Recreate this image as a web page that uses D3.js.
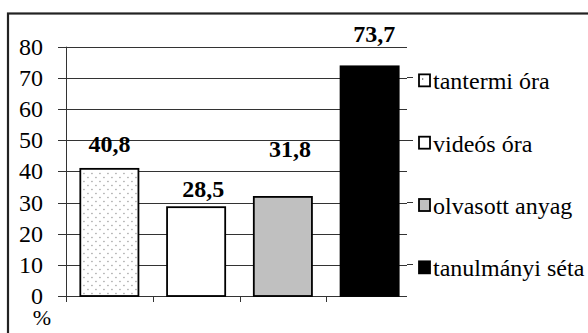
<!DOCTYPE html>
<html>
<head>
<meta charset="utf-8">
<script src="https://cdn.jsdelivr.net/npm/d3@7"></script>
<style>
  html, body { margin: 0; padding: 0; background: #fff; }
  #chart { position: relative; width: 588px; height: 333px; overflow: hidden; }
  #chart svg { position: absolute; left: 0; top: 0; display: block; }
  .lbl {
    position: absolute; white-space: nowrap; line-height: 1; color: #000;
    font-family: "Liberation Serif", "Times New Roman", Times, serif;
  }
</style>
</head>
<body>
<div id="chart"></div>
<script>
// Survey result: share (%) of respondents per learning format
const categories = ["tantermi óra", "videós óra", "olvasott anyag", "tanulmányi séta"];
const values = [40.8, 28.5, 31.8, 73.7];
const valueLabels = ["40,8", "28,5", "31,8", "73,7"];
const yTicks = [0, 10, 20, 30, 40, 50, 60, 70, 80];
const yUnit = "%";

// Styling / layout
const W = 588, H = 333;
const fills = ["#ffffff", "#ffffff", "#c0c0c0", "#000000"];
// small hand nudges (dx, dy) of each value label's baseline from its bar top
const labelNudge = [[0, -17], [7, -10], [7, -40], [4.5, -24.5]];

const root = d3.select("#chart");
const svg = root.append("svg").attr("width", W).attr("height", H);

const x = d3.scaleBand().domain(categories).range([66, 413])
  .paddingInner(0.33).paddingOuter(0.165);
const y = d3.scaleLinear().domain([0, 80]).range([296, 46.7]);
const legendY = categories.map((c, i) => y(70 - 20 * i) + 2.5);

// outer frame (runs past the right and bottom edges)
svg.append("rect")
  .attr("x", 8).attr("y", 13.5).attr("width", W + 20).attr("height", H + 20)
  .attr("fill", "none").attr("stroke", "#222").attr("stroke-width", 2.2);

// horizontal grid lines + tick marks on the left
svg.selectAll("line.grid").data(yTicks).join("line")
  .attr("class", "grid")
  .attr("x1", 58).attr("x2", 407)
  .attr("y1", d => Math.round(y(d)) + 0.5).attr("y2", d => Math.round(y(d)) + 0.5)
  .attr("stroke", "#333").attr("stroke-width", 1);

// vertical axis line
svg.append("line").attr("x1", 66.5).attr("x2", 66.5).attr("y1", y(80)).attr("y2", 302)
  .attr("stroke", "#333").attr("stroke-width", 1);

// category separators below the baseline
const seps = categories.map(c => x(c) - x.step() * x.paddingInner() / 2).slice(1);
svg.selectAll("line.sep").data(seps).join("line")
  .attr("class", "sep")
  .attr("x1", d => Math.round(d) + 0.5).attr("x2", d => Math.round(d) + 0.5)
  .attr("y1", y(0)).attr("y2", 302)
  .attr("stroke", "#333").attr("stroke-width", 1);

// bars
svg.selectAll("rect.bar").data(values).join("rect")
  .attr("class", "bar")
  .attr("x", (d, i) => x(categories[i]))
  .attr("y", d => y(d))
  .attr("width", x.bandwidth())
  .attr("height", d => y(0) - y(d))
  .attr("fill", (d, i) => fills[i])
  .attr("stroke", "#000").attr("stroke-width", 1.8);

// dots inside the first bar
{
  const bx = x(categories[0]), bw = x.bandwidth(), top = y(values[0]), bot = y(0);
  const dots = [];
  for (let r = 0, yy = top + 4; yy < bot - 2; r++, yy += 4)
    for (let xx = bx + 3 + (r % 2) * 4; xx < bx + bw - 2; xx += 8) dots.push([xx, yy]);
  svg.selectAll("rect.dot").data(dots).join("rect")
    .attr("class", "dot")
    .attr("x", d => d[0]).attr("y", d => d[1]).attr("width", 1.3).attr("height", 1.3)
    .attr("fill", "#9a9a9a");
}

// legend: grid stubs and keys
svg.selectAll("line.stub").data(legendY).join("line")
  .attr("class", "stub")
  .attr("x1", 407).attr("x2", 413)
  .attr("y1", d => Math.round(d) - 2.5).attr("y2", d => Math.round(d) - 2.5)
  .attr("stroke", "#333");
svg.selectAll("rect.key").data(categories).join("rect")
  .attr("class", "key")
  .attr("x", 419).attr("y", (d, i) => legendY[i] - 6).attr("width", 11).attr("height", 12)
  .attr("fill", (d, i) => fills[i]).attr("stroke", "#000").attr("stroke-width", 1.8);
svg.append("rect")
  .attr("x", 422).attr("y", legendY[0] - 2).attr("width", 1.3).attr("height", 1.3).attr("fill", "#555");

// ---- text layer ----
// y-axis tick labels (right-aligned, centred on their grid line)
root.selectAll("div.tick").data(yTicks).join("div")
  .attr("class", "lbl tick")
  .style("font-size", "24px")
  .style("left", "43px").style("top", d => `${y(d)}px`)
  .style("transform", "translate(-100%, -50%)")
  .text(d => String(d));

// unit below the axis labels
root.selectAll("div.unit").data([yUnit]).join("div")
  .attr("class", "lbl unit")
  .style("font-size", "22px")
  .style("left", "42px").style("top", "318px")
  .style("transform", "translate(-50%, -50%)")
  .text(d => d);

// value labels (box centre sits ~8px above the baseline)
root.selectAll("div.val").data(values).join("div")
  .attr("class", "lbl val")
  .style("font-size", "24px").style("font-weight", "bold")
  .style("left", (d, i) => `${x(categories[i]) + x.bandwidth() / 2 + labelNudge[i][0]}px`)
  .style("top", (d, i) => `${y(d) + labelNudge[i][1] - 8}px`)
  .style("transform", "translate(-50%, -50%)")
  .text((d, i) => valueLabels[i]);

// legend labels
root.selectAll("div.leg").data(categories).join("div")
  .attr("class", "lbl leg")
  .style("font-size", "24px")
  .style("left", "433px").style("top", (d, i) => `${legendY[i] + 1}px`)
  .style("transform", "translate(0, -50%)")
  .text(d => d);
</script>
</body>
</html>
